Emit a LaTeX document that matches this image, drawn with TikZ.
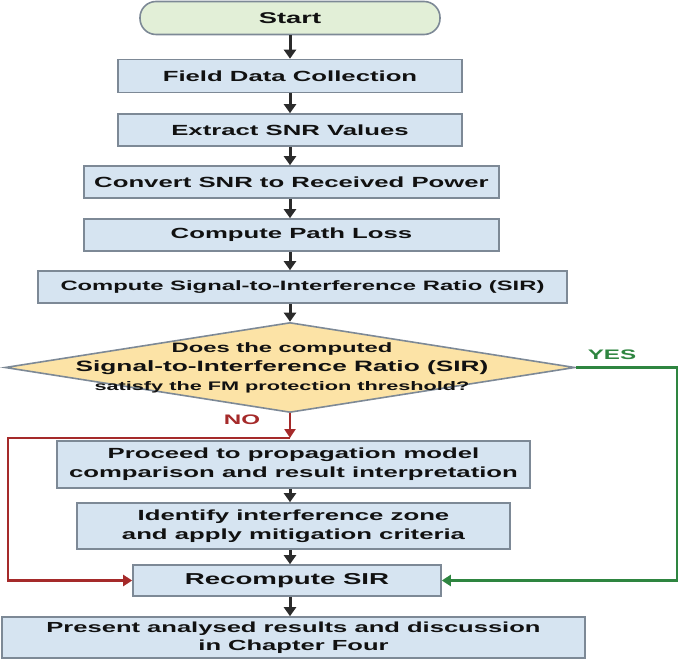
\documentclass[tikz,border=0pt]{standalone}
\usepackage{fontspec}
\setmainfont{Liberation Sans}[FakeStretch=1.75]
\usetikzlibrary{arrows.meta,shapes.geometric}
\definecolor{boxfill}{HTML}{D6E4F1}
\definecolor{boxline}{HTML}{7D8996}
\definecolor{startfill}{HTML}{E2EFD7}
\definecolor{decfill}{HTML}{FCE3A6}
\definecolor{yesgreen}{HTML}{2E8540}
\definecolor{nored}{HTML}{A52A2A}
\definecolor{arrowgray}{HTML}{2B2B2B}
\definecolor{txt}{HTML}{111111}
\begin{document}
\begin{tikzpicture}[x=1pt,y=-1pt,
  procbox/.style={draw=boxline,line width=1.6pt,fill=boxfill,inner sep=0pt,align=center,text=txt,font=\fontsize{14.7}{19}\selectfont\bfseries},
  startbox/.style={draw=boxline,line width=1.6pt,fill=startfill,rounded corners=16pt,minimum width=300pt,minimum height=33pt,inner sep=0pt,text=txt,font=\fontsize{15.6}{19}\selectfont\bfseries},
  decision/.style={diamond,draw=boxline,line width=1.6pt,fill=decfill,minimum width=570pt,minimum height=90pt,inner sep=0pt},
  arr/.style={draw=arrowgray,line width=3pt,-{Triangle[width=12pt,length=9pt]}},
  noarr/.style={draw=nored,line width=2.2pt,-{Triangle[width=11pt,length=9pt]}},
  yesarr/.style={draw=yesgreen,line width=2.2pt,-{Triangle[width=11pt,length=9pt]}},
  lbl/.style={font=\fontsize{13.8}{16}\selectfont\bfseries,inner sep=0pt}
]
\useasboundingbox (0,0) rectangle (680,660);

\node[startbox] (start) at (290,18) {Start};
\node[procbox,minimum width=344pt,minimum height=33pt] (field) at (290,76) {Field Data Collection};
\node[procbox,minimum width=344pt,minimum height=32pt] (snr) at (290,130) {Extract SNR Values};
\node[procbox,minimum width=415pt,minimum height=32pt] (conv) at (291.5,182) {Convert SNR to Received Power};
\node[procbox,minimum width=415pt,minimum height=32pt] (pl) at (291.5,235) {Compute Path Loss};
\node[procbox,minimum width=529pt,minimum height=32pt,font=\fontsize{13.6}{17}\selectfont\bfseries] (sir) at (302.5,287) {Compute Signal-to-Interference Ratio (SIR)};

\node[decision] (dec) at (290,367.5) {};
\node[align=center,inner sep=0pt,text=txt] (dectext) at (282,367.5) {\fontsize{13.6}{17.5}\selectfont\bfseries Does the computed\\[5pt]
  \fontsize{15}{17.5}\selectfont\bfseries Signal-to-Interference Ratio (SIR)\\[5pt]
  \fontsize{12.4}{17.5}\selectfont\bfseries satisfy the FM protection threshold?};

\node[procbox,minimum width=473pt,minimum height=47pt] (proc) at (293.5,464.5) {Proceed to propagation model\\comparison and result interpretation};
\node[procbox,minimum width=433pt,minimum height=46pt] (ident) at (293.5,526) {Identify interference zone\\and apply mitigation criteria};
\node[procbox,minimum width=308pt,minimum height=31pt,font=\fontsize{15.8}{19}\selectfont\bfseries] (rec) at (287,580.5) {Recompute SIR};
\node[procbox,minimum width=583pt,minimum height=41pt,font=\fontsize{14.6}{18}\selectfont\bfseries] (pres) at (293.5,637.5) {Present analysed results and discussion\\in Chapter Four};

\node[lbl,text=yesgreen] (yes) at (612,355) {YES};
\node[lbl,text=nored] (no) at (242,420) {NO};

\draw[arr] (start.south -| 290,0) -- (field.north -| 290,0);
\draw[arr] (field.south -| 290,0) -- (snr.north -| 290,0);
\draw[arr] (snr.south -| 290,0) -- (conv.north -| 290,0);
\draw[arr] (conv.south -| 290,0) -- (pl.north -| 290,0);
\draw[arr] (pl.south -| 290,0) -- (sir.north -| 290,0);
\draw[arr] (sir.south -| dec.north) -- (dec.north);

\coordinate (nojoin) at (290,438);
\coordinate (nocorner) at (8,438);
\coordinate (yescorner) at (677,367.5);
\draw[noarr] (dec.south) -- (nojoin);
\draw[noarr] (nojoin) -- (nocorner) |- (rec.west);
\draw[yesarr] (dec.east) -- (yescorner) |- (rec.east);

\draw[arr] (proc.south -| 290,0) -- (ident.north -| 290,0);
\draw[arr] (ident.south -| 290,0) -- (rec.north -| 290,0);
\draw[arr] (rec.south -| 290,0) -- (pres.north -| 290,0);
\end{tikzpicture}
\end{document}
